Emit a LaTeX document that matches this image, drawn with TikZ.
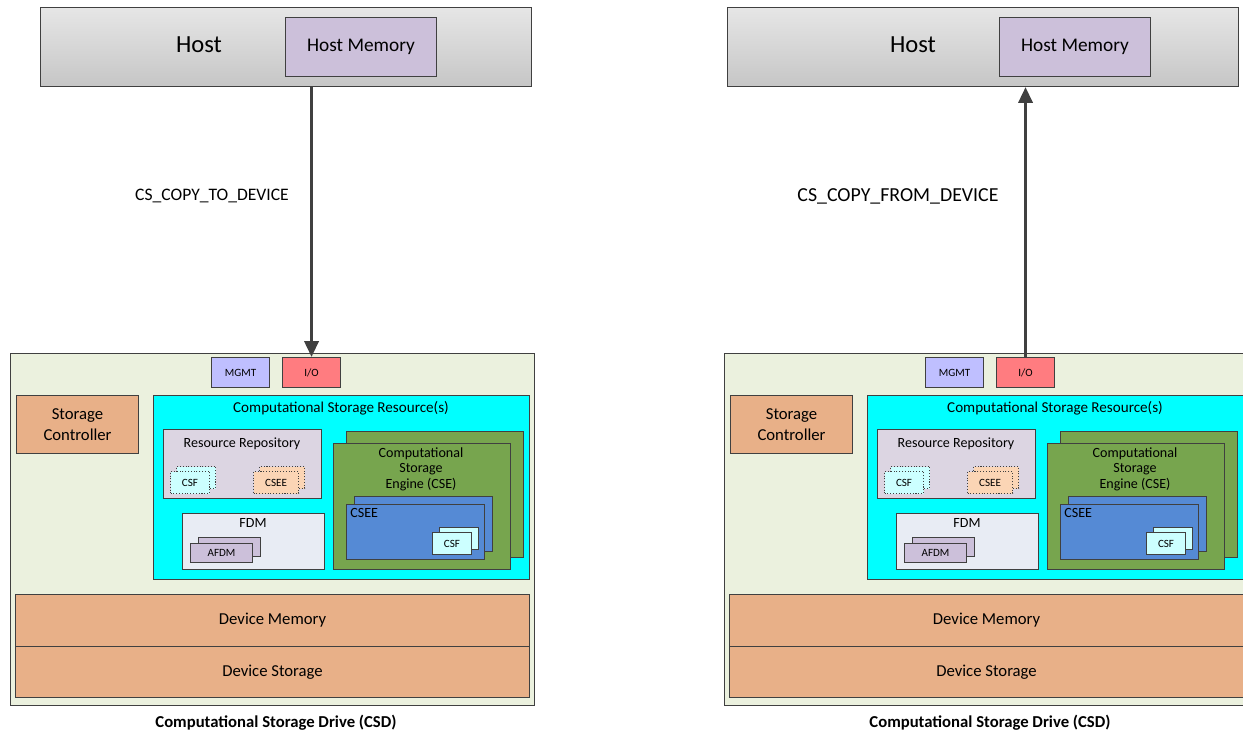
\documentclass[tikz,border=0pt]{standalone}
\usepackage{fontspec}
\setmainfont{Carlito}
\usetikzlibrary{arrows.meta,shadows}

\definecolor{edge}{HTML}{404040}
\definecolor{hosttop}{HTML}{E6E6E6}
\definecolor{hostbot}{HTML}{C6C6C6}
\definecolor{hostmem}{HTML}{CCC0DA}
\definecolor{csdbg}{HTML}{EBF1DE}
\definecolor{mgmtblue}{HTML}{BFBFFF}
\definecolor{iored}{HTML}{FF7C80}
\definecolor{sandy}{HTML}{E8B088}
\definecolor{csrcyan}{HTML}{00FFFF}
\definecolor{repogray}{HTML}{DCD5E2}
\definecolor{csfcyan}{HTML}{CCFFFF}
\definecolor{cseeorange}{HTML}{FBD5B5}
\definecolor{fdmgray}{HTML}{E8ECF4}
\definecolor{afdmpurple}{HTML}{CCC0DA}
\definecolor{csegreen}{HTML}{77A54E}
\definecolor{cseeblue}{HTML}{558AD5}

\begin{document}
\begin{tikzpicture}[x=0.02cm, y=-0.02cm,
    every node/.style={inner sep=0pt, font=\fontsize{8}{9.5}\selectfont},
    box/.style={draw=edge, line width=0.6pt, anchor=north west},
    sz/.style 2 args={minimum width=#1*0.02cm, minimum height=#2*0.02cm},
    stack/.style 2 args={copy shadow={shadow xshift=#1*0.02cm, shadow yshift=#2*0.02cm}},
    tiny/.style={font=\fontsize{6.3}{7.5}\selectfont},
    mid/.style={font=\fontsize{9.5}{12}\selectfont, align=center},
    hostbox/.style={box, top color=hosttop, bottom color=hostbot},
    flow/.style={draw=edge, line width=1.8pt, -{Triangle[length=9pt,width=8pt]}}]
  \useasboundingbox (0,0) rectangle (1243,732);

  % hosts
  \node[hostbox, sz={491}{79}] (hostL) at (40,7) {};
  \node[box, fill=hostmem, sz={151}{59}, font=\fontsize{11}{13}\selectfont] (memL) at (285,17) {Host Memory};
  \node[font=\fontsize{14}{16}\selectfont] (hosttxtL) at (199,45) {Host};
  \node[hostbox, sz={511}{79}] (hostR) at (727,7) {};
  \node[box, fill=hostmem, sz={151}{59}, font=\fontsize{11}{13}\selectfont] (memR) at (999,17) {Host Memory};
  \node[font=\fontsize{14}{16}\selectfont] (hosttxtR) at (913,45) {Host};

  % the two drives
  \foreach \side/\dx in {L/0, R/714} {
    \begin{scope}[xshift=\dx*0.02cm, name prefix=\side-]
      \node[box, fill=csdbg, sz={524}{352}] (csd) at (10,353) {};
      \node[box, fill=mgmtblue, sz={58}{30}, tiny] (mgmt) at (211,357) {MGMT};
      \node[box, fill=iored, sz={58}{30}, tiny] (io) at (282,357) {I/O};
      \node[box, fill=sandy, sz={122}{58}, mid] (stctl) at (16,395) {Storage\\Controller};
      \node[box, fill=csrcyan, sz={376}{184}] (csr) at (153,395) {};
      \node[font=\fontsize{8.6}{10}\selectfont] (csrtxt) at (341,408) {Computational Storage Resource(s)};
      % resource repository
      \node[box, fill=repogray, sz={158}{69}] (repo) at (163,429) {};
      \node (repotxt) at (242,444) {Resource Repository};
      \node[box, fill=csfcyan, densely dotted, sz={39}{22}, stack={6}{5}, tiny] (csfa) at (170,471) {CSF};
      \node[box, fill=cseeorange, densely dotted, sz={45}{22}, stack={6}{5}, tiny] (cseea) at (253,471) {CSEE};
      % fdm
      \node[box, fill=fdmgray, sz={142}{56}] (fdm) at (182,513) {};
      \node (fdmtxt) at (253,523) {FDM};
      \node[box, fill=afdmpurple, sz={62}{19}, stack={8}{6}, tiny] (afdm) at (190,543) {AFDM};
      % engine
      \node[box, fill=csegreen, sz={177}{126}, stack={13}{12}] (cse) at (333,443) {};
      \node[align=center, font=\fontsize{8}{8.8}\selectfont] (csetxt) at (421,469) {Computational\\Storage\\Engine (CSE)};
      \node[box, fill=cseeblue, sz={138}{55}, stack={8}{8}] (cseeb) at (346,504) {};
      \node[anchor=west] (cseebtxt) at (350,513) {CSEE};
      \node[box, fill=csfcyan, sz={39}{22}, stack={7}{5}, tiny] (csfb) at (432,532) {CSF};
      % memory and storage
      \node[box, fill=sandy, sz={514}{52}, mid] (dmem) at (15,594) {Device Memory};
      \node[box, fill=sandy, sz={514}{51}, mid] (dsto) at (15,646) {Device Storage};
      \node[font=\fontsize{9.5}{11}\selectfont\bfseries] (csdtxt) at (276,723) {Computational Storage Drive (CSD)};
    \end{scope}
  }

  % transfers
  \draw[flow] (hostL.south -| L-io.north) -- (L-io.north);
  \node[font=\fontsize{10}{12}\selectfont] (toL) at (212,196) {CS\_COPY\_TO\_DEVICE};
  \draw[flow] (R-io.north) -- (R-io.north |- hostR.south);
  \node[font=\fontsize{11.3}{13}\selectfont] (fromR) at (898,196) {CS\_COPY\_FROM\_DEVICE};
\end{tikzpicture}
\end{document}
